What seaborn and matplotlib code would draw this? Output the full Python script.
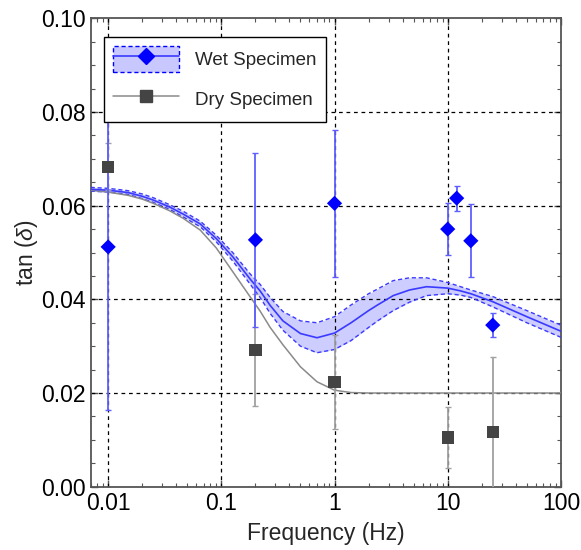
import numpy as np
import pandas as pd
import matplotlib
matplotlib.use("Agg")
import matplotlib.pyplot as plt
import seaborn as sns
from matplotlib.patches import Patch
from matplotlib.lines import Line2D
from matplotlib.legend_handler import HandlerTuple
from matplotlib.ticker import FixedLocator, MultipleLocator, LogLocator, NullFormatter, FixedFormatter

# ---------------- data ----------------
wet_freq = [0.01, 0.2, 1, 10, 12, 16, 25]
wet_tan = [0.0512, 0.0527, 0.0605, 0.0550, 0.0616, 0.0525, 0.0345]
wet_err = [0.0348, 0.0186, 0.0157, 0.0055, 0.0027, 0.0078, 0.0025]

dry_freq = [0.01, 0.2, 1, 10, 25]
dry_tan = [0.0683, 0.0292, 0.0224, 0.0105, 0.0117]
dry_err = [0.0050, 0.0120, 0.0100, 0.0066, 0.0160]

fit_freq = [0.007, 0.01, 0.015, 0.02, 0.025, 0.035, 0.046, 0.065, 0.09, 0.127,
            0.18, 0.22, 0.27, 0.35, 0.5, 0.7, 1.0, 1.4, 2.0, 2.4, 3.3, 4.6, 6.5,
            10, 13, 16, 25, 50, 100]
wet_fit = [0.0635, 0.0633, 0.0628, 0.0620, 0.0612, 0.0597, 0.0582, 0.0561, 0.0530, 0.0490,
           0.0443, 0.0418, 0.0387, 0.0354, 0.0327, 0.0318, 0.0328, 0.0350, 0.0376, 0.0388,
           0.0408, 0.0420, 0.0427, 0.0424, 0.0418, 0.0412, 0.0395, 0.0363, 0.0332]
wet_lo = [0.0631, 0.0629, 0.0624, 0.0615, 0.0607, 0.0592, 0.0576, 0.0555, 0.0523, 0.0481,
          0.0432, 0.0404, 0.0370, 0.0334, 0.0300, 0.0286, 0.0293, 0.0312, 0.0340, 0.0354,
          0.0376, 0.0394, 0.0408, 0.0412, 0.0409, 0.0404, 0.0384, 0.0350, 0.0319]
wet_hi = [0.0639, 0.0637, 0.0632, 0.0625, 0.0617, 0.0602, 0.0588, 0.0567, 0.0537, 0.0499,
          0.0454, 0.0432, 0.0404, 0.0374, 0.0354, 0.0350, 0.0363, 0.0388, 0.0412, 0.0422,
          0.0440, 0.0446, 0.0446, 0.0436, 0.0427, 0.0420, 0.0406, 0.0376, 0.0345]
dry_fit = [0.0633, 0.0629, 0.0622, 0.0614, 0.0605, 0.0589, 0.0573, 0.0548, 0.0510, 0.0458,
           0.0405, 0.0375, 0.0340, 0.0303, 0.0256, 0.0224, 0.0206, 0.0201, 0.0200, 0.0200,
           0.0200, 0.0200, 0.0200, 0.0200, 0.0200, 0.0200, 0.0200, 0.0200, 0.0200]

x_ticks = [0.01, 0.1, 1, 10, 100]
x_tick_labels = ["0.01", "0.1", "1", "10", "100"]
y_ticks = [0.00, 0.02, 0.04, 0.06, 0.08, 0.10]
y_tick_labels = ["0.00", "0.02", "0.04", "0.06", "0.08", "0.10"]

# ---------------- style ----------------
sns.set_theme(style="ticks")
plt.rcParams["font.family"] = ["Liberation Sans", "DejaVu Sans"]
plt.rcParams["mathtext.fontset"] = "custom"
plt.rcParams["mathtext.it"] = "Liberation Sans:italic"
plt.rcParams["mathtext.rm"] = "Liberation Sans"

BLUE = "#0000ff"
LINE_BLUE = "#3a3aff"
BAR_BLUE = "#5f5fff"
FILL = "#c8c8ff"
GRAY_LINE = "#8a8a8a"
DARK = "#444444"
BAR_GRAY = "#a0a0a0"

fig = plt.figure(figsize=(5.81, 5.5), dpi=100)
ax = fig.add_axes([0.156, 0.1151, 0.8094, 0.8516])

fit_df = pd.DataFrame({"f": fit_freq, "wet": wet_fit, "lo": wet_lo, "hi": wet_hi, "dry": dry_fit})
wet_df = pd.DataFrame({"f": wet_freq, "t": wet_tan, "e": wet_err})
dry_df = pd.DataFrame({"f": dry_freq, "t": dry_tan, "e": dry_err})

ax.set_xscale("log")

# band
ax.fill_between(fit_df["f"], fit_df["lo"], fit_df["hi"], color=FILL, alpha=0.9, lw=0, zorder=2)
sns.lineplot(data=fit_df, x="f", y="lo", ax=ax, color=LINE_BLUE, lw=1.0, ls=(0, (3, 2)), sort=False, zorder=3)
sns.lineplot(data=fit_df, x="f", y="hi", ax=ax, color=LINE_BLUE, lw=1.0, ls=(0, (3, 2)), sort=False, zorder=3)
sns.lineplot(data=fit_df, x="f", y="dry", ax=ax, color=GRAY_LINE, lw=1.1, sort=False, zorder=3)
sns.lineplot(data=fit_df, x="f", y="wet", ax=ax, color=LINE_BLUE, lw=1.2, sort=False, zorder=4)

# error bars
ax.errorbar(dry_df["f"], dry_df["t"], yerr=dry_df["e"], fmt="none", ecolor=BAR_GRAY,
            elinewidth=1.3, capsize=2, capthick=1, zorder=5)
ax.errorbar(wet_df["f"], wet_df["t"], yerr=wet_df["e"], fmt="none", ecolor=BAR_BLUE,
            elinewidth=1.3, capsize=2, capthick=1, zorder=6)

sns.scatterplot(data=dry_df, x="f", y="t", ax=ax, marker="s", s=80, color=DARK,
                edgecolor="none", zorder=7)
sns.scatterplot(data=wet_df, x="f", y="t", ax=ax, marker="D", s=60, color=BLUE,
                edgecolor="none", zorder=8)

ax.set_xlim(0.007, 100)
ax.set_ylim(0.0, 0.10)

ax.xaxis.set_major_locator(FixedLocator(x_ticks))
ax.xaxis.set_major_formatter(FixedFormatter(x_tick_labels))
ax.xaxis.set_minor_locator(LogLocator(base=10, subs=np.arange(2, 10) * 1.0))
ax.xaxis.set_minor_formatter(NullFormatter())
ax.yaxis.set_major_locator(FixedLocator(y_ticks))
ax.yaxis.set_major_formatter(FixedFormatter(y_tick_labels))
ax.yaxis.set_minor_locator(MultipleLocator(0.005))

ax.tick_params(which="both", direction="in", top=True, right=True, colors="#555555",
               labelcolor="black", labelsize=16.5)
ax.tick_params(which="major", length=5, width=1)
ax.tick_params(which="minor", length=3, width=0.8)

for s in ax.spines.values():
    s.set_color("#555555")
    s.set_linewidth(1.3)

# grid (dashed black at major positions)
for xv in [0.01, 0.1, 1, 10]:
    ax.axvline(xv, color="black", lw=0.9, ls=(0, (3, 3)), zorder=2.5)
for yv in [0.02, 0.04, 0.06, 0.08]:
    ax.axhline(yv, color="black", lw=0.9, ls=(0, (3, 3)), zorder=2.5)

ax.set_xlabel("Frequency (Hz)", fontsize=16.5, labelpad=5)
ax.set_ylabel(r"tan ($\delta$)", fontsize=16.5, labelpad=1)

# legend
wet_patch = Patch(facecolor=FILL, edgecolor=BLUE, linestyle=(0, (3, 2)), linewidth=1.0)
wet_line = Line2D([], [], color=LINE_BLUE, lw=1.2, marker="D", markersize=8,
                  markerfacecolor=BLUE, markeredgecolor=BLUE)
dry_line = Line2D([], [], color=GRAY_LINE, lw=1.1, marker="s", markersize=9,
                  markerfacecolor=DARK, markeredgecolor=DARK)
leg = ax.legend([(wet_patch, wet_line), dry_line], ["Wet Specimen", "Dry Specimen"],
                handler_map={tuple: HandlerTuple(ndivide=1)},
                loc="upper left", bbox_to_anchor=(0.028, 0.96), fontsize=13.5,
                handlelength=3.5, handleheight=1.75, labelspacing=0.75,
                handletextpad=0.85, borderpad=0.5, borderaxespad=0,
                fancybox=False, framealpha=1, edgecolor="black")
leg.get_frame().set_linewidth(1.0)
leg.set_zorder(20)

fig.savefig("out.png", dpi=100)
